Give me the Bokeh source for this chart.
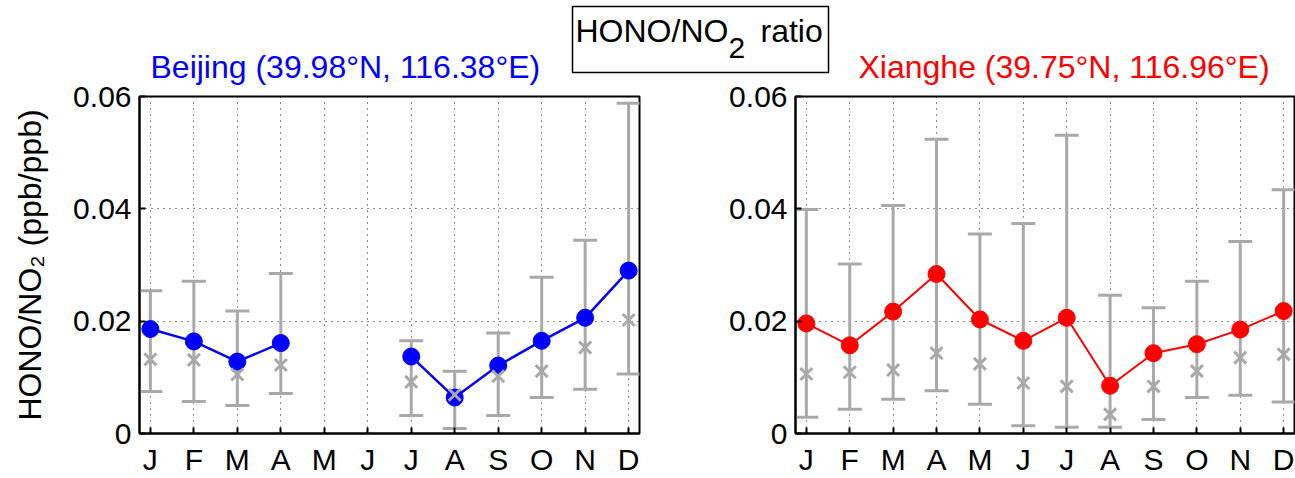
import math

from bokeh.embed import file_html
from bokeh.layouts import column, row
from bokeh.models import (BoxAnnotation, ColumnDataSource, FixedTicker, Label,
                          Range1d, TeeHead, Whisker)
from bokeh.plotting import figure
from bokeh.resources import INLINE

nan = float("nan")

# Month axis
months = ["J", "F", "M", "A", "M", "J", "J", "A", "S", "O", "N", "D"]
month_num = list(range(1, 13))

# Y axis ticks
y_ticks = [0, 0.02, 0.04, 0.06]
y_tick_labels = ["0", "0.02", "0.04", "0.06"]

# Beijing (39.98N, 116.38E): monthly mean, median and error-bar bounds (no data in May/Jun)
bj_mean = [0.0186, 0.0164, 0.0128, 0.0161, nan, nan, 0.0137, 0.0064, 0.0121, 0.0165, 0.0206, 0.0290]
bj_median = [0.0132, 0.0131, 0.0105, 0.0122, nan, nan, 0.0092, 0.0069, 0.0102, 0.0111, 0.0153, 0.0202]
bj_upper = [0.0254, 0.0271, 0.0218, 0.0285, nan, nan, 0.0165, 0.0111, 0.0179, 0.0278, 0.0344, 0.0588]
bj_lower = [0.0075, 0.0057, 0.0050, 0.0071, nan, nan, 0.0032, 0.0009, 0.0032, 0.0064, 0.0079, 0.0106]

# Xianghe (39.75N, 116.96E)
xh_mean = [0.0196, 0.0157, 0.0217, 0.0284, 0.0203, 0.0165, 0.0206, 0.0085, 0.0143, 0.0159, 0.0185, 0.0218]
xh_median = [0.0106, 0.0109, 0.0113, 0.0143, 0.0124, 0.0090, 0.0084, 0.0034, 0.0084, 0.0111, 0.0135, 0.0141]
xh_upper = [0.0399, 0.0302, 0.0406, 0.0524, 0.0355, 0.0374, 0.0531, 0.0246, 0.0224, 0.0271, 0.0342, 0.0434]
xh_lower = [0.0029, 0.0043, 0.0061, 0.0076, 0.0052, 0.0014, 0.0011, 0.0011, 0.0025, 0.0064, 0.0068, 0.0056]

FONT = "Liberation Sans"
GRAY = "#a9a9a9"
HEAD_H = 88          # height of the heading strip
OVERLAP = 26         # the panels slide up under the heading's lower part
PANEL_TOP = HEAD_H - OVERLAP


def style_axis(ax):
    ax.axis_line_color = "black"
    ax.axis_line_width = 2
    ax.major_tick_in = 6
    ax.major_tick_out = 0
    ax.major_tick_line_width = 2
    ax.major_tick_line_color = "black"
    ax.minor_tick_line_color = None
    ax.major_label_text_font = FONT
    ax.major_label_text_color = "black"
    ax.major_label_text_font_size = "30px"


def station_panel(mean, median, lower, upper, color, width, border_left, border_right,
                  ylabel=None, line_width=2.5):
    p = figure(width=width, height=478 - PANEL_TOP,
               x_range=Range1d(0.75, 12.25), y_range=Range1d(0, 0.06),
               output_backend="svg", toolbar_location=None,
               min_border_left=border_left, min_border_right=border_right,
               min_border_top=96 - PANEL_TOP, min_border_bottom=42)
    p.background_fill_color = "white"
    p.border_fill_alpha = 0          # let the heading show through above the frame
    p.outline_line_color = "black"
    p.outline_line_width = 2

    month_ticker = FixedTicker(ticks=month_num)
    value_ticker = FixedTicker(ticks=y_ticks)

    xax = p.xaxis[0]
    yax = p.yaxis[0]
    xax.ticker = month_ticker
    xax.major_label_overrides = {m: lab for m, lab in zip(month_num, months)}
    xax.major_label_standoff = 9
    yax.ticker = value_ticker
    yax.major_label_overrides = {t: lab for t, lab in zip(y_ticks, y_tick_labels)}
    yax.major_label_standoff = 8
    style_axis(xax)
    style_axis(yax)

    if ylabel:
        yax.axis_label = ylabel
        yax.axis_label_text_font = FONT
        yax.axis_label_text_font_size = "32px"
        yax.axis_label_text_font_style = "normal"
        yax.axis_label_text_color = "black"
        yax.axis_label_standoff = 22

    p.xgrid.ticker = month_ticker
    p.ygrid.ticker = value_ticker
    for g in (p.xgrid[0], p.ygrid[0]):
        g.grid_line_color = "black"
        g.grid_line_alpha = 0.9
        g.grid_line_width = 1
        g.grid_line_dash = "1 5"

    ok = [i for i in range(12) if not math.isnan(mean[i])]
    bars = ColumnDataSource(dict(
        x=[month_num[i] for i in ok],
        lo=[lower[i] for i in ok],
        hi=[upper[i] for i in ok],
        med=[median[i] for i in ok],
    ))
    whisk = Whisker(base="x", lower="lo", upper="hi", source=bars, dimension="height",
                    line_color=GRAY, line_width=3, level="underlay",
                    lower_head=TeeHead(size=24, line_color=GRAY, line_width=3),
                    upper_head=TeeHead(size=24, line_color=GRAY, line_width=3))
    p.add_layout(whisk)

    p.line(month_num, mean, line_color=color, line_width=line_width)
    p.scatter(month_num, mean, marker="circle", size=17, fill_color=color, line_color=color)
    p.scatter("x", "med", source=bars, marker="x", size=17, line_color=GRAY, line_width=3)
    return p


left = station_panel(bj_mean, bj_median, bj_lower, bj_upper, "#0000ff",
                     width=645, border_left=139, border_right=6,
                     ylabel="HONO/NO\u2082 (ppb/ppb)", line_width=2.5)
right = station_panel(xh_mean, xh_median, xh_lower, xh_upper, "#ff0000",
                      width=650, border_left=150, border_right=1, line_width=2)

# Heading strip: overall title box and the two station titles (pixel coordinates)
head = figure(width=1295, height=HEAD_H, x_range=Range1d(0, 1295), y_range=Range1d(HEAD_H, 0),
              x_axis_type=None, y_axis_type=None, output_backend="svg",
              toolbar_location=None, min_border=0)
head.outline_line_color = None
head.background_fill_color = "white"
head.border_fill_color = "white"
head.margin = (0, 0, -OVERLAP, 0)

head.add_layout(BoxAnnotation(left=572, right=828, top=6, bottom=72,
                              fill_color="white", fill_alpha=1.0,
                              line_color="black", line_alpha=1.0, line_width=1.5))
head.add_layout(Label(x=575, y=30, text="HONO/NO", text_font=FONT, text_font_size="32px",
                      text_baseline="alphabetic", text_color="black"))
head.add_layout(Label(x=728, y=47, text="2", text_font=FONT, text_font_size="30px",
                      text_baseline="alphabetic", text_color="black"))
head.add_layout(Label(x=760, y=30, text="ratio", text_font=FONT, text_font_size="32px",
                      text_baseline="alphabetic", text_color="black"))
head.add_layout(Label(x=150, y=66, text="Beijing (39.98\u00b0N, 116.38\u00b0E)", text_font=FONT,
                      text_font_size="32px", text_baseline="alphabetic", text_color="#0000ff"))
head.add_layout(Label(x=858, y=66, text="Xianghe (39.75\u00b0N, 116.96\u00b0E)", text_font=FONT,
                      text_font_size="32px", text_baseline="alphabetic", text_color="#ff0000"))

layout = column(head, row(left, right, spacing=0), spacing=0)

open("out.html", "w").write(file_html(layout, INLINE))
